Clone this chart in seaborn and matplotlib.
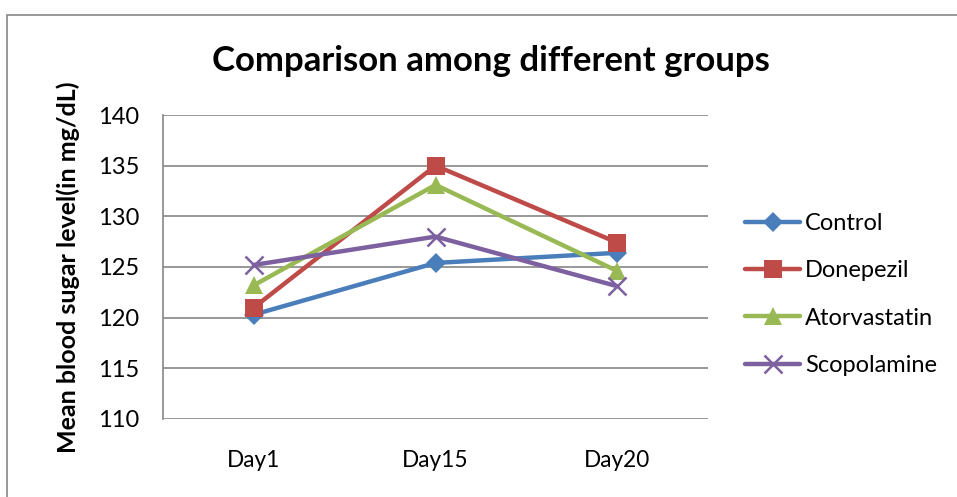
import matplotlib
matplotlib.use("Agg")
import matplotlib.pyplot as plt
import seaborn as sns
import pandas as pd
from matplotlib.patches import Rectangle
from matplotlib.lines import Line2D

days = ["Day1", "Day15", "Day20"]
groups = ["Control", "Donepezil", "Atorvastatin", "Scopolamine"]
control = [120.3, 125.4, 126.4]
donepezil = [121.0, 135.0, 127.4]
atorvastatin = [123.2, 133.1, 124.6]
scopolamine = [125.2, 128.0, 123.1]
yticks = [110, 115, 120, 125, 130, 135, 140]

series = [control, donepezil, atorvastatin, scopolamine]
rows = []
for g, vals in zip(groups, series):
    for i, (d, v) in enumerate(zip(days, vals)):
        rows.append({"day": d, "pos": i, "group": g, "value": v})
df = pd.DataFrame(rows)

sns.set_theme(style="white")
plt.rcParams['font.family'] = ['Lato', 'DejaVu Sans']
plt.rcParams['text.color'] = 'black'
plt.rcParams['axes.labelcolor'] = 'black'
plt.rcParams['xtick.color'] = 'black'
plt.rcParams['ytick.color'] = 'black'

colors = {"Control": "#4A7EBB", "Donepezil": "#BE4B48",
          "Atorvastatin": "#98B954", "Scopolamine": "#7D60A0"}
markers = {"Control": "D", "Donepezil": "s", "Atorvastatin": "^", "Scopolamine": "x"}
msizes = {"Control": 10, "Donepezil": 13, "Atorvastatin": 13, "Scopolamine": 13}

fig = plt.figure(figsize=(9.57, 4.97), dpi=100)
ax = fig.add_axes([0.1703, 0.157, 0.5697, 0.6116])

for g in groups:
    sub = df[df["group"] == g]
    ew = 1.8 if g == "Scopolamine" else 0
    sns.lineplot(data=sub, x="pos", y="value", color=colors[g], marker=markers[g],
                 markersize=msizes[g], markeredgewidth=ew, markeredgecolor=colors[g],
                 linewidth=3.2, ax=ax, legend=False)

ax.set_xlim(-0.5, 2.5)
ax.set_ylim(110, 140)
ax.set_xticks(range(len(days)))
ax.set_xticklabels(days, fontsize=16.3)
ax.set_yticks(yticks)
ax.set_yticklabels([str(t) for t in yticks], fontsize=17)
ax.tick_params(axis='x', length=0, pad=22)
ax.tick_params(axis='y', length=0, pad=17)
ax.yaxis.grid(True, color="#868686", linewidth=1.2)
ax.set_axisbelow(True)
for s in ["top", "right", "bottom"]:
    ax.spines[s].set_visible(False)
ax.spines["left"].set_color("#868686")
ax.spines["left"].set_linewidth(1.2)
ax.set_xlabel("")
ax.set_ylabel("Mean blood sugar level(in mg/dL)", fontsize=18, fontweight="bold", labelpad=13)

fig.text(0.513, 0.878, "Comparison among different groups", ha="center", va="center",
         fontsize=25, fontweight="bold")

handles = []
for g in groups:
    h = Line2D([0], [0], color=colors[g], linewidth=3.2, marker=markers[g],
               markersize=msizes[g], markeredgewidth=1.8 if g == "Scopolamine" else 0,
               markeredgecolor=colors[g])
    handles.append(h)
fig.legend(handles, groups, loc="center left", bbox_to_anchor=(0.7785, 0.4074),
           frameon=False, fontsize=17, handlelength=2.33, handletextpad=0.2,
           labelspacing=1.12, borderpad=0, borderaxespad=0)

fig.patches.append(Rectangle((0.007, -0.1), 1.2, 1.07, transform=fig.transFigure,
                             fill=False, edgecolor="#868686", linewidth=1.2))

fig.savefig("out.png", dpi=100)
